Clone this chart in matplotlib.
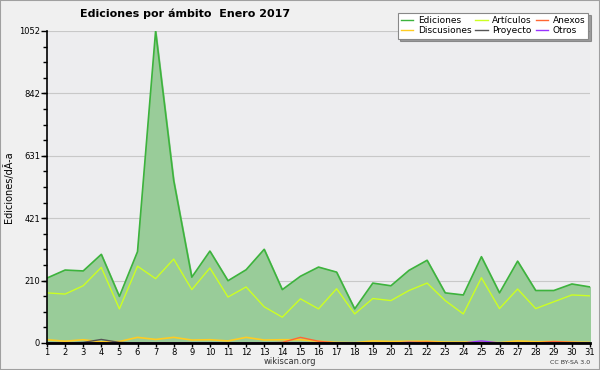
import matplotlib
matplotlib.use("Agg")
import matplotlib.pyplot as plt
from matplotlib.ticker import FixedLocator, MultipleLocator
from matplotlib.patches import Rectangle
from matplotlib.lines import Line2D

days = list(range(1, 32))
ediciones = [219, 246, 243, 299, 157, 308, 1052, 548, 222, 310, 210, 247, 316, 180, 225, 256,
             239, 115, 202, 193, 245, 279, 169, 162, 291, 169, 276, 177, 177, 199, 189]
articulos = [169, 165, 193, 255, 115, 259, 217, 283, 180, 253, 155, 189, 122, 87, 149, 115,
             183, 98, 150, 143, 177, 202, 143, 98, 220, 116, 182, 116, 139, 162, 159]
discusiones = [11, 6, 11, 4, 5, 19, 12, 19, 10, 11, 7, 19, 10, 11, 11, 6,
               2, 1, 7, 5, 6, 6, 3, 3, 4, 1, 7, 4, 5, 3, 2]
anexos = [0, 0, 0, 0, 0, 0, 0, 0, 0, 0, 0, 0, 0, 2, 19, 6,
          0, 0, 0, 0, 2, 3, 0, 0, 0, 0, 0, 0, 5, 2, 0]
proyecto = [0, 0, 2, 12, 2, 0, 0, 0, 0, 0, 0, 0, 0, 0, 0, 0,
            0, 0, 0, 0, 0, 0, 0, 0, 2, 0, 0, 0, 0, 0, 0]
otros = [0, 0, 0, 0, 0, 0, 0, 0, 0, 0, 0, 0, 0, 0, 0, 0,
         0, 0, 0, 0, 2, 0, 0, 0, 7, 0, 0, 0, 0, 0, 0]
yticks = [0, 210, 421, 631, 842, 1052]

c_ed, c_fill = "#3db33d", "#99cc99"
c_art = "#ccff22"
c_anx = "#ff6633"
c_dis = "#ffcc22"
c_pro = "#555555"
c_otr = "#9933ff"

fig = plt.figure(figsize=(6, 3.7), dpi=100)
fig.patch.set_facecolor("#f0f0f0")
fig.patches.append(Rectangle((0, 0), 1, 1, transform=fig.transFigure, fill=False,
                             edgecolor="#a0a0a0", linewidth=1.5))
ax = fig.add_axes([47/600, 1-343/370, 543/600, 312/370])
ax.set_facecolor("#ededef")
ax.set_xlim(1, 31)
ax.set_ylim(0, 1052)

ax.fill_between(days, ediciones, 0, color=c_fill, zorder=2)
ax.plot(days, ediciones, color=c_ed, lw=1.2, zorder=3)
ax.plot(days, articulos, color=c_art, lw=1.0, zorder=3)
ax.plot(days, discusiones, color=c_dis, lw=1.2, zorder=4)
ax.plot(days, anexos, color=c_anx, lw=1.0, zorder=4)
ax.plot(days, proyecto, color=c_pro, lw=1.0, zorder=4)
ax.plot(days, otros, color=c_otr, lw=1.0, zorder=4)

ax.yaxis.set_major_locator(FixedLocator(yticks))
ax.yaxis.set_minor_locator(MultipleLocator(1052/20))
ax.set_xticks(days)
ax.set_yticklabels([str(v) for v in yticks])
ax.grid(axis="y", color="#c8c8c8", lw=0.8, zorder=1)
ax.set_axisbelow(True)
for s in ["top", "right"]:
    ax.spines[s].set_visible(False)
ax.spines["left"].set_linewidth(1.2)
ax.spines["bottom"].set_linewidth(2)
ax.spines["left"].set_zorder(5)
ax.spines["bottom"].set_zorder(5)
ax.tick_params(axis="both", which="major", labelsize=6, length=4, width=1, pad=1, colors="black")
ax.tick_params(axis="y", which="minor", length=3, width=1)
ax.tick_params(axis="x", length=3, pad=0.5)
ax.set_ylabel("Ediciones/dÃ-a", fontsize=7)
ax.yaxis.set_label_coords(-0.06, 0.5)

fig.text(185/600, 1-14/370, "Ediciones por ámbito  Enero 2017", fontsize=8, fontweight="bold",
         ha="center", va="center")
fig.text(290/600, 1-362/370, "wikiscan.org", fontsize=6, ha="center", va="center", color="#333333")
fig.text(590/600, 1-363/370, "CC BY-SA 3.0", fontsize=4.5, ha="right", va="center", color="#333333")

handles = [Line2D([], [], color=c, lw=1) for c in [c_ed, c_dis, c_art, c_pro, c_anx, c_otr]]
labels = ["Ediciones", "Discusiones", "Artículos", "Proyecto", "Anexos", "Otros"]
leg = fig.legend(handles, labels, ncol=3, loc="upper right", bbox_to_anchor=(593/600, 1-8/370),
                 fontsize=6.5, frameon=True, fancybox=False, shadow=True, handlelength=1.4,
                 handletextpad=0.5, columnspacing=0.4, labelspacing=0.2, borderpad=0.35)
leg.get_frame().set_edgecolor("#888888")
leg.get_frame().set_linewidth(0.8)

fig.savefig("out.png", dpi=100, facecolor=fig.get_facecolor())
